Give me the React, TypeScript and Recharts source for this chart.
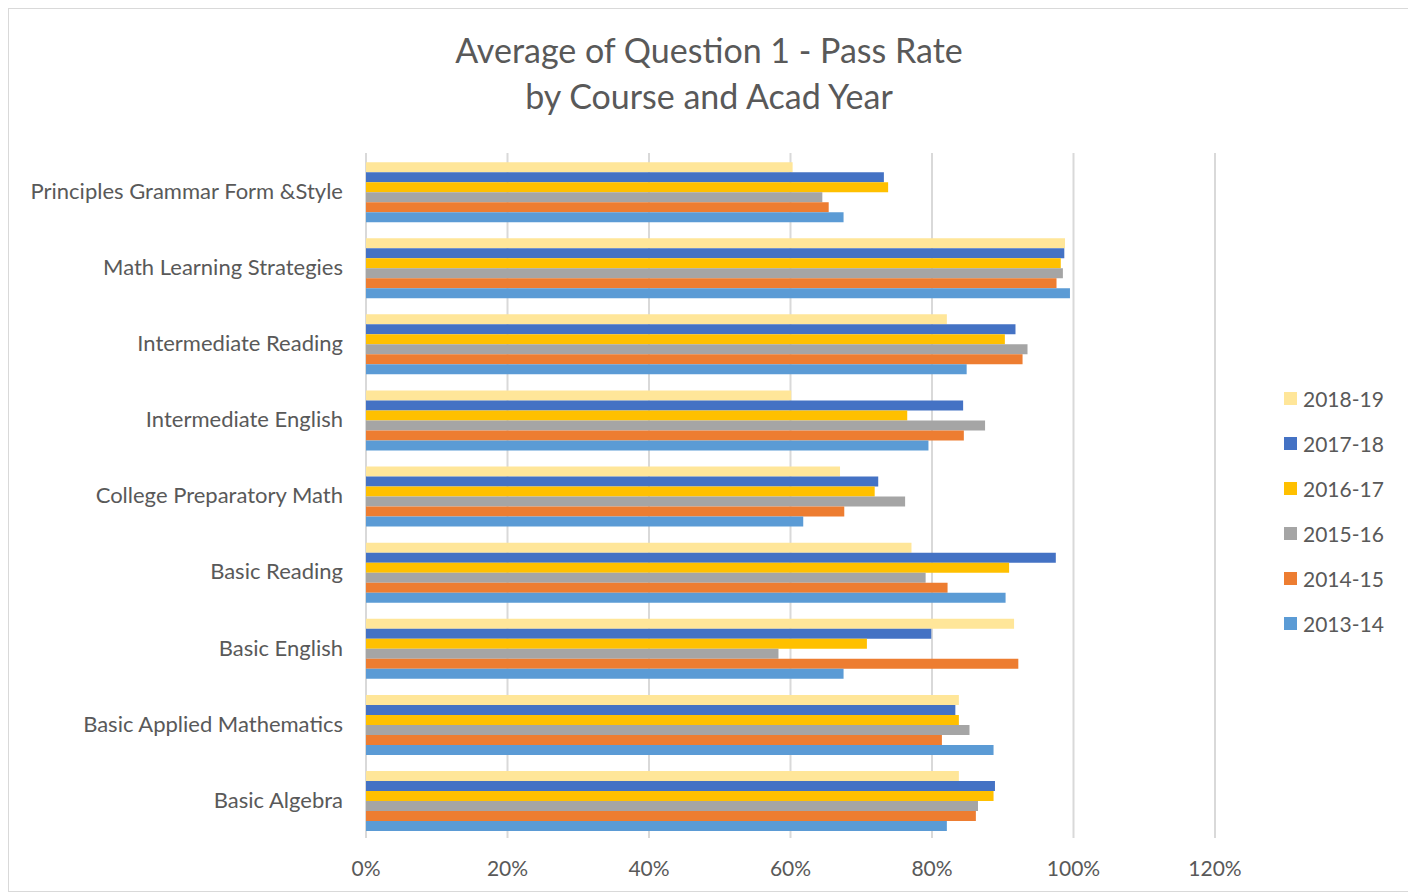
import { BarChart, Bar, XAxis, YAxis, CartesianGrid } from "recharts";

// categories top to bottom as shown
const courses = [
  "Principles Grammar Form &Style",
  "Math Learning Strategies",
  "Intermediate Reading",
  "Intermediate English",
  "College Preparatory Math",
  "Basic Reading",
  "Basic English",
  "Basic Applied Mathematics",
  "Basic Algebra",
];

const y2018_19 = [0.603, 0.988, 0.821, 0.601, 0.67, 0.771, 0.916, 0.838, 0.838];
const y2017_18 = [0.732, 0.987, 0.918, 0.844, 0.724, 0.975, 0.799, 0.833, 0.889];
const y2016_17 = [0.738, 0.982, 0.903, 0.765, 0.719, 0.909, 0.708, 0.838, 0.887];
const y2015_16 = [0.645, 0.985, 0.935, 0.875, 0.762, 0.791, 0.583, 0.853, 0.865];
const y2014_15 = [0.654, 0.976, 0.928, 0.845, 0.676, 0.822, 0.922, 0.814, 0.862];
const y2013_14 = [0.675, 0.995, 0.849, 0.795, 0.618, 0.904, 0.675, 0.887, 0.821];

const xTicks = [0, 0.2, 0.4, 0.6, 0.8, 1.0, 1.2];

const series = [
  { key: "2018-19", values: y2018_19, color: "#FFE699" },
  { key: "2017-18", values: y2017_18, color: "#4472C4" },
  { key: "2016-17", values: y2016_17, color: "#FFC000" },
  { key: "2015-16", values: y2015_16, color: "#A5A5A5" },
  { key: "2014-15", values: y2014_15, color: "#ED7D31" },
  { key: "2013-14", values: y2013_14, color: "#5B9BD5" },
];

const data = courses.map((name, i) => {
  const row: Record<string, string | number> = { name };
  series.forEach((s) => {
    row[s.key] = s.values[i];
  });
  return row;
});

const FONT = "Lato, 'Open Sans', sans-serif";
const TEXT = "#595959";

export default function App() {
  return (
    <div
      style={{
        position: "relative",
        width: 1402,
        height: 884,
        border: "1px solid #d9d9d9",
        boxSizing: "border-box",
        background: "#fff",
        fontFamily: FONT,
      }}
    >
      <div
        style={{
          position: "absolute",
          top: 18,
          left: 0,
          width: 1400,
          textAlign: "center",
          fontSize: 34,
          lineHeight: "46px",
          color: TEXT,
        }}
      >
        Average of Question 1 - Pass Rate
        <br />
        by Course and Acad Year
      </div>
      <BarChart
        width={1400}
        height={882}
        data={data}
        layout="vertical"
        margin={{ top: 144, right: 194, left: 0, bottom: 0 }}
        barCategoryGap="12%"
        barGap={0}
        style={{ position: "absolute", top: 0, left: 0 }}
      >
        <CartesianGrid horizontal={false} stroke="#d9d9d9" strokeWidth={2} />
        <XAxis
          type="number"
          domain={[0, 1.2]}
          ticks={xTicks}
          tickFormatter={(v: number) => `${Math.round(v * 100)}%`}
          axisLine={false}
          tickLine={false}
          tickSize={0}
          tickMargin={23}
          height={53}
          tick={{ fontSize: 21, fill: TEXT, fontFamily: FONT }}
        />
        <YAxis
          type="category"
          dataKey="name"
          width={357}
          interval={0}
          axisLine={false}
          tickLine={false}
          tickSize={0}
          tickMargin={23}
          tick={{ fontSize: 22, fill: TEXT, fontFamily: FONT }}
        />
        {series.map((s) => (
          <Bar
            key={s.key}
            dataKey={s.key}
            name={s.key}
            fill={s.color}
            isAnimationActive={false}
          />
        ))}
      </BarChart>
      <div style={{ position: "absolute", left: 1275, top: 367 }}>
        {series.map((s) => (
          <div
            key={s.key}
            style={{ display: "flex", alignItems: "center", height: 45 }}
          >
            <span
              style={{
                width: 13,
                height: 13,
                background: s.color,
                marginRight: 6,
                display: "inline-block",
              }}
            />
            <span style={{ fontSize: 21, color: TEXT }}>{s.key}</span>
          </div>
        ))}
      </div>
    </div>
  );
}
